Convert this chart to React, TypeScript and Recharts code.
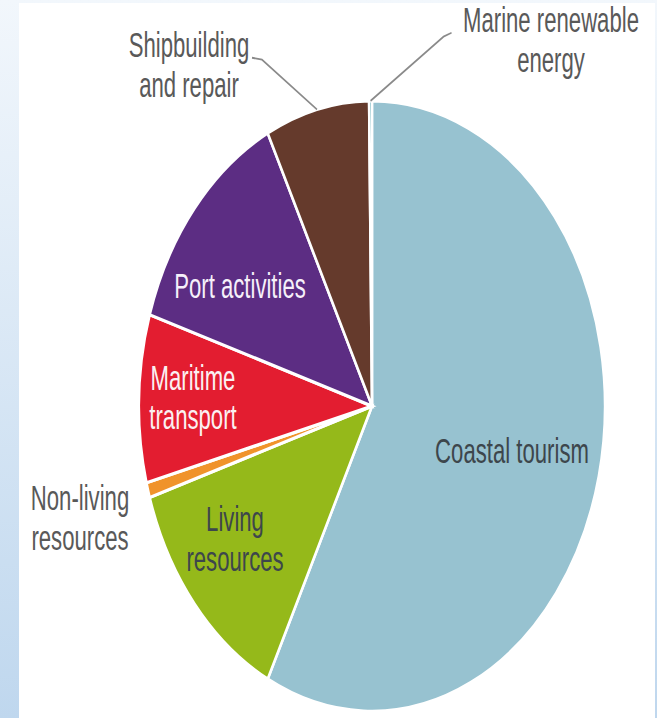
import { PieChart, Pie, Cell } from 'recharts'

const sectors = ['Coastal tourism', 'Living resources', 'Non-living resources', 'Maritime transport', 'Port activities', 'Shipbuilding and repair', 'Marine renewable energy']
const shares = [57.5, 12.8, 0.8, 8.9, 12.8, 7.2, 0.2]
const sectorColors = ['#97c2d0', '#95b91a', '#f0932b', '#e31d30', '#5c2d83', '#653a2c', '#2f8f9d']

const labelText: Record<string, string[]> = {
  'Coastal tourism': ['Coastal tourism'],
  'Living resources': ['Living', 'resources'],
  'Non-living resources': ['Non-living', 'resources'],
  'Maritime transport': ['Maritime', 'transport'],
  'Port activities': ['Port activities'],
  'Shipbuilding and repair': ['Shipbuilding', 'and repair'],
  'Marine renewable energy': ['Marine renewable', 'energy'],
}

const data = sectors.map((name, i) => ({ name, value: shares[i] }))

// label placement relative to the pie centre (unscaled coordinates)
const labelSpots: Record<string, { dx: number; dy: number; color: string; leader?: { ex: number; ey: number; tx: number; ty: number } }> = {
  'Coastal tourism': { dx: 140, dy: 34, color: '#3d464c' },
  'Living resources': { dx: -137, dy: 101, color: '#3d464c' },
  'Non-living resources': { dx: -292, dy: 85, color: '#595959' },
  'Maritime transport': { dx: -179, dy: -7, color: '#fbf0f2' },
  'Port activities': { dx: -132, dy: -92, color: '#f6f0fa' },
  'Shipbuilding and repair': { dx: -183, dy: -261, color: '#595959', leader: { ex: -55, ey: -38, tx: -10, ty: -1.5 } },
  'Marine renewable energy': { dx: 179, dy: -280, color: '#595959', leader: { ex: 73, ey: -49, tx: 8, ty: -3 } },
}

const RAD = Math.PI / 180
const SCALE_Y = 1.31
const NARROW = 0.82
const LINE_H = 30.5

function renderLabel(props: any) {
  const { cx, cy, midAngle, outerRadius } = props
  const name = props.payload?.name ?? props.name
  const spot = labelSpots[name]
  const lines = labelText[name]
  if (!spot || !lines) return null
  const x = cx + spot.dx
  const y = cy + spot.dy
  const top = y - ((lines.length - 1) * LINE_H) / 2
  let leader = null
  if (spot.leader) {
    const ex = cx + outerRadius * Math.cos(-midAngle * RAD)
    const ey = cy + outerRadius * Math.sin(-midAngle * RAD)
    const bx = ex + spot.leader.ex
    const by = ey + spot.leader.ey
    leader = (
      <polyline
        points={`${ex},${ey} ${bx},${by} ${bx + spot.leader.tx},${by + spot.leader.ty}`}
        fill="none"
        stroke="#8a8a8a"
        strokeWidth={1.4}
      />
    )
  }
  return (
    <g key={name}>
      {leader}
      <text
        transform={`translate(${x},${top}) scale(${NARROW},1)`}
        textAnchor="middle"
        fill={spot.color}
        fontSize={27}
        fontFamily="'Liberation Sans', Arial, sans-serif"
      >
        {lines.map((ln, i) => (
          <tspan key={i} x={0} y={i * LINE_H} dominantBaseline="central">
            {ln}
          </tspan>
        ))}
      </text>
    </g>
  )
}

export default function App() {
  return (
    <div
      style={{
        position: 'relative',
        width: 657,
        height: 718,
        overflow: 'hidden',
        background: 'linear-gradient(to bottom, #f2f7fc, #bfd7ee)',
      }}
    >
      <style>{'body{margin:0}'}</style>
      <div style={{ position: 'absolute', left: 19, top: 3, width: 636, height: 715, background: '#ffffff' }} />
      <div style={{ position: 'absolute', left: 0, top: 0, transform: `scaleY(${SCALE_Y})`, transformOrigin: '0 0' }}>
        <PieChart width={657} height={548} margin={{ top: 0, right: 0, bottom: 0, left: 0 }}>
          <Pie
            data={data}
            dataKey="value"
            nameKey="name"
            cx={372}
            cy={310}
            outerRadius={233}
            startAngle={90}
            endAngle={-270}
            stroke="#ffffff"
            strokeWidth={2.5}
            label={renderLabel}
            labelLine={false}
            isAnimationActive={false}
          >
            {data.map((d, i) => (
              <Cell key={d.name} fill={sectorColors[i]} />
            ))}
          </Pie>
        </PieChart>
      </div>
    </div>
  )
}
